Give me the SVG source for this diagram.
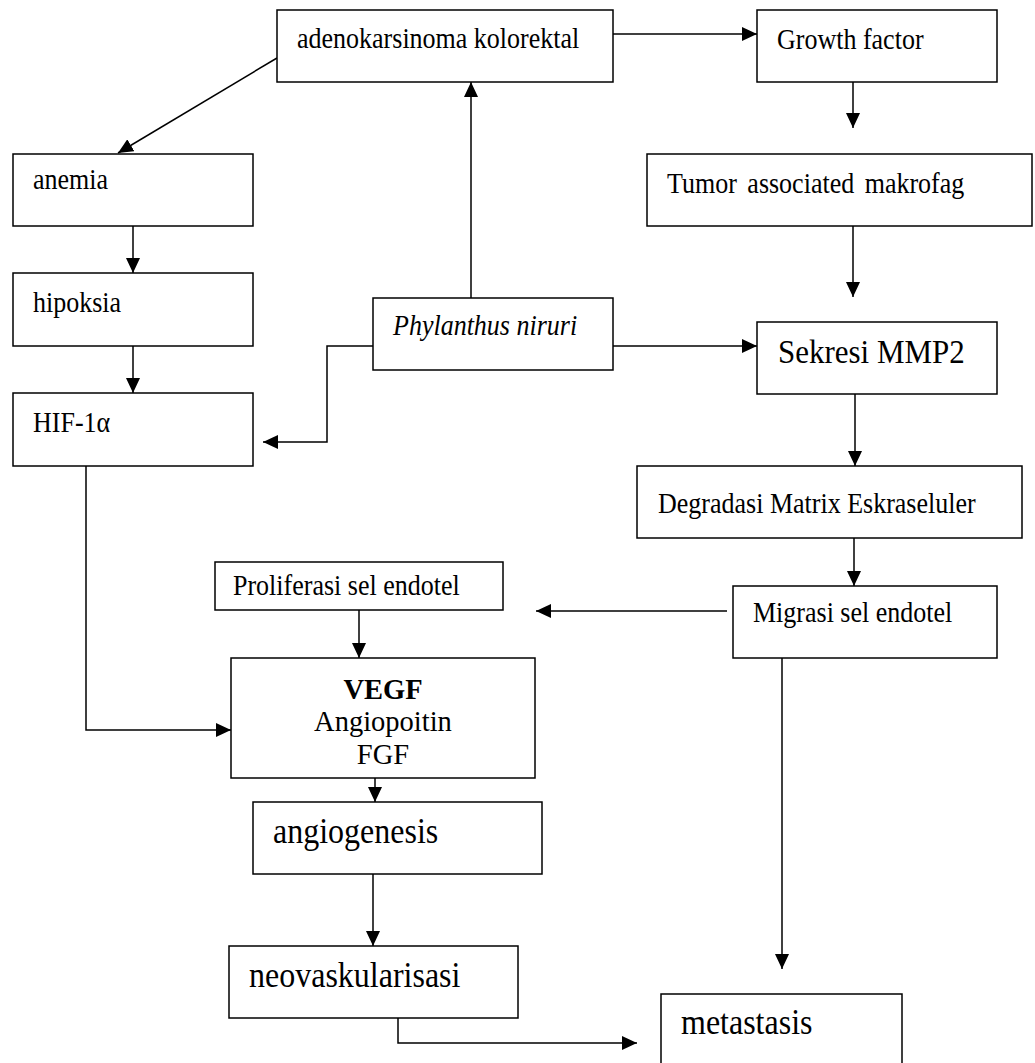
<svg xmlns="http://www.w3.org/2000/svg" width="1035" height="1063" viewBox="0 0 1035 1063">
<style>
.box{fill:#fff;stroke:#000;stroke-width:1.5}
.t{font-family:"Liberation Serif","Times New Roman",serif;font-size:26px;fill:#000}
.big{font-size:32px}
.c{text-anchor:middle;font-size:28.5px}
.conn{fill:none;stroke:#000;stroke-width:1.5}
</style>
<defs>
<marker id="ah" markerUnits="userSpaceOnUse" markerWidth="15" markerHeight="14" refX="15" refY="7" orient="auto">
<path d="M0,0 L15,7 L0,14 z" fill="#000"/>
</marker>
</defs>
<rect width="1035" height="1063" fill="#fff"/>
<g id="connectors">
<path class="conn" d="M277,58 L118,153" marker-end="url(#ah)"/>
<path class="conn" d="M613,34 L757,34" marker-end="url(#ah)"/>
<path class="conn" d="M853,82 L853,128" marker-end="url(#ah)"/>
<path class="conn" d="M853,226 L853,297" marker-end="url(#ah)"/>
<path class="conn" d="M471,298 L471,82" marker-end="url(#ah)"/>
<path class="conn" d="M613,346 L757,346" marker-end="url(#ah)"/>
<path class="conn" d="M373,346 L327,346 L327,442 L263,442" marker-end="url(#ah)"/>
<path class="conn" d="M133,226 L133,273" marker-end="url(#ah)"/>
<path class="conn" d="M133,346 L133,393" marker-end="url(#ah)"/>
<path class="conn" d="M86,466 L86,730 L231,730" marker-end="url(#ah)"/>
<path class="conn" d="M855,394 L855,466" marker-end="url(#ah)"/>
<path class="conn" d="M854,538 L854,586" marker-end="url(#ah)"/>
<path class="conn" d="M727,611 L536,611" marker-end="url(#ah)"/>
<path class="conn" d="M782,658 L782,969" marker-end="url(#ah)"/>
<path class="conn" d="M359,610 L359,658" marker-end="url(#ah)"/>
<path class="conn" d="M375,778 L375,802" marker-end="url(#ah)"/>
<path class="conn" d="M373,874 L373,946" marker-end="url(#ah)"/>
<path class="conn" d="M398,1018 L398,1043 L637,1043" marker-end="url(#ah)"/>
</g>
<g id="adenokarsinoma"><rect class="box" x="277" y="10" width="336" height="72"/><text class="t" transform="translate(297 48) scale(1 1.1)">adenokarsinoma kolorektal</text></g>
<g id="growth-factor"><rect class="box" x="757" y="10" width="240" height="72"/><text class="t" transform="translate(777 49) scale(1 1.1)">Growth factor</text></g>
<g id="tumor-makrofag"><rect class="box" x="647" y="154" width="385" height="72"/><text class="t" transform="translate(667 193) scale(1 1.1)" word-spacing="4">Tumor associated makrofag</text></g>
<g id="sekresi-mmp2"><rect class="box" x="757" y="322" width="240" height="72"/><text class="t" transform="translate(778 363) scale(1 1.1)" style="font-size:31px">Sekresi MMP2</text></g>
<g id="phylanthus"><rect class="box" x="373" y="298" width="240" height="72"/><text class="t" transform="translate(393 335) scale(1 1.1)" font-style="italic">Phylanthus niruri</text></g>
<g id="anemia"><rect class="box" x="13" y="154" width="240" height="72"/><text class="t" transform="translate(33 189) scale(1 1.1)">anemia</text></g>
<g id="hipoksia"><rect class="box" x="13" y="273" width="240" height="73"/><text class="t" transform="translate(33 312) scale(1 1.1)">hipoksia</text></g>
<g id="hif"><rect class="box" x="13" y="393" width="240" height="73"/><text class="t" transform="translate(33 432) scale(1 1.1)">HIF-1α</text></g>
<g id="proliferasi"><rect class="box" x="215" y="562" width="288" height="48"/><text class="t" transform="translate(233 595) scale(1 1.1)">Proliferasi sel endotel</text></g>
<g id="degradasi"><rect class="box" x="637" y="466" width="385" height="72"/><text class="t" transform="translate(658 513) scale(1 1.1)">Degradasi Matrix Eskraseluler</text></g>
<g id="migrasi"><rect class="box" x="733" y="586" width="264" height="72"/><text class="t" transform="translate(753 622) scale(1 1.1)">Migrasi sel endotel</text></g>
<g id="vegf"><rect class="box" x="231" y="658" width="304" height="120"/>
<text class="t c" x="383" y="699" font-weight="bold">VEGF</text>
<text class="t c" x="383" y="731">Angiopoitin</text>
<text class="t c" x="383" y="764">FGF</text></g>
<g id="angiogenesis"><rect class="box" x="253" y="802" width="289" height="72"/><text class="t big" transform="translate(273 843) scale(1 1.1)">angiogenesis</text></g>
<g id="neovaskularisasi"><rect class="box" x="229" y="946" width="289" height="72"/><text class="t big" transform="translate(249 987) scale(1 1.1)">neovaskularisasi</text></g>
<g id="metastasis"><rect class="box" x="661" y="994" width="241" height="80"/><text class="t big" transform="translate(681 1034) scale(1 1.1)">metastasis</text></g>
</svg>
